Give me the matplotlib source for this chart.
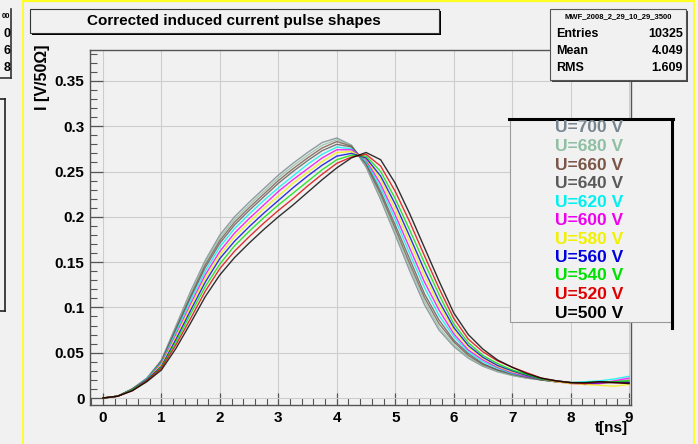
import matplotlib
matplotlib.use("Agg")
import matplotlib.pyplot as plt
from matplotlib.lines import Line2D
from matplotlib.patches import Rectangle
from matplotlib.ticker import MultipleLocator

# time axis of the pulse histograms, ns
t_ns = [0.0, 0.25, 0.5, 0.75, 1.0, 1.25, 1.5, 1.75, 2.0, 2.25, 2.5, 2.75,
        3.0, 3.25, 3.5, 3.75, 4.0, 4.25, 4.5, 4.75, 5.0, 5.25, 5.5, 5.75,
        6.0, 6.25, 6.5, 6.75, 7.0, 7.25, 7.5, 7.75, 8.0, 8.25, 8.5, 8.75, 9.0]

# induced current, V/50 Ohm, one list per anode voltage
u700 = [0.000, 0.002, 0.010, 0.022, 0.042, 0.080, 0.118, 0.152, 0.180, 0.200, 0.216, 0.231,
        0.246, 0.259, 0.271, 0.282, 0.287, 0.279, 0.255, 0.219, 0.180, 0.140, 0.103, 0.075,
        0.057, 0.044, 0.035, 0.029, 0.025, 0.022, 0.020, 0.018, 0.017, 0.016, 0.017, 0.018, 0.020]
u680 = [0.000, 0.002, 0.010, 0.022, 0.041, 0.078, 0.116, 0.150, 0.177, 0.197, 0.213, 0.228,
        0.243, 0.256, 0.268, 0.279, 0.285, 0.279, 0.257, 0.222, 0.183, 0.144, 0.107, 0.078,
        0.059, 0.045, 0.036, 0.030, 0.025, 0.022, 0.020, 0.018, 0.017, 0.016, 0.017, 0.018, 0.019]
u660 = [0.000, 0.002, 0.010, 0.021, 0.041, 0.077, 0.113, 0.147, 0.174, 0.194, 0.210, 0.225,
        0.240, 0.253, 0.265, 0.276, 0.283, 0.278, 0.258, 0.225, 0.187, 0.148, 0.111, 0.082,
        0.062, 0.047, 0.037, 0.031, 0.026, 0.023, 0.020, 0.018, 0.017, 0.016, 0.016, 0.017, 0.018]
u640 = [0.000, 0.002, 0.010, 0.021, 0.040, 0.075, 0.111, 0.144, 0.171, 0.191, 0.207, 0.222,
        0.237, 0.250, 0.262, 0.273, 0.280, 0.277, 0.260, 0.228, 0.191, 0.153, 0.115, 0.086,
        0.064, 0.049, 0.038, 0.031, 0.027, 0.023, 0.020, 0.018, 0.017, 0.017, 0.018, 0.018, 0.017]
u620 = [0.000, 0.002, 0.009, 0.021, 0.039, 0.073, 0.108, 0.140, 0.167, 0.187, 0.203, 0.218,
        0.232, 0.245, 0.258, 0.269, 0.277, 0.275, 0.261, 0.232, 0.197, 0.159, 0.122, 0.091,
        0.068, 0.051, 0.040, 0.033, 0.027, 0.024, 0.021, 0.018, 0.017, 0.018, 0.019, 0.021, 0.024]
u600 = [0.000, 0.002, 0.009, 0.020, 0.038, 0.070, 0.104, 0.136, 0.162, 0.182, 0.198, 0.213,
        0.228, 0.241, 0.253, 0.265, 0.274, 0.274, 0.263, 0.236, 0.202, 0.165, 0.128, 0.097,
        0.071, 0.053, 0.042, 0.034, 0.028, 0.024, 0.021, 0.018, 0.016, 0.015, 0.016, 0.019, 0.022]
u580 = [0.000, 0.002, 0.009, 0.020, 0.037, 0.068, 0.101, 0.132, 0.158, 0.178, 0.194, 0.209,
        0.223, 0.237, 0.249, 0.261, 0.271, 0.272, 0.264, 0.241, 0.208, 0.172, 0.135, 0.102,
        0.075, 0.056, 0.044, 0.035, 0.029, 0.025, 0.021, 0.018, 0.016, 0.015, 0.014, 0.013, 0.015]
u560 = [0.000, 0.002, 0.009, 0.020, 0.035, 0.065, 0.097, 0.128, 0.154, 0.173, 0.189, 0.204,
        0.218, 0.232, 0.245, 0.257, 0.267, 0.270, 0.265, 0.245, 0.214, 0.178, 0.141, 0.107,
        0.078, 0.058, 0.045, 0.036, 0.030, 0.025, 0.021, 0.019, 0.017, 0.016, 0.017, 0.018, 0.017]
u540 = [0.000, 0.002, 0.009, 0.019, 0.034, 0.062, 0.093, 0.123, 0.148, 0.168, 0.184, 0.199,
        0.213, 0.226, 0.239, 0.252, 0.263, 0.268, 0.267, 0.250, 0.220, 0.185, 0.149, 0.114,
        0.082, 0.061, 0.047, 0.038, 0.031, 0.026, 0.021, 0.019, 0.017, 0.017, 0.018, 0.018, 0.019]
u520 = [0.000, 0.002, 0.008, 0.019, 0.033, 0.059, 0.088, 0.118, 0.143, 0.162, 0.178, 0.193,
        0.207, 0.220, 0.234, 0.247, 0.259, 0.266, 0.269, 0.256, 0.228, 0.194, 0.157, 0.121,
        0.088, 0.065, 0.051, 0.041, 0.034, 0.028, 0.022, 0.019, 0.017, 0.016, 0.018, 0.017, 0.016]
u500 = [0.000, 0.002, 0.008, 0.018, 0.031, 0.055, 0.083, 0.112, 0.136, 0.155, 0.171, 0.186,
        0.200, 0.213, 0.227, 0.241, 0.254, 0.265, 0.271, 0.263, 0.237, 0.203, 0.166, 0.129,
        0.094, 0.070, 0.054, 0.042, 0.034, 0.027, 0.022, 0.019, 0.017, 0.017, 0.018, 0.017, 0.016]

series = [u700, u680, u660, u640, u620, u600, u580, u560, u540, u520, u500]
labels = ["U=700 V", "U=680 V", "U=660 V", "U=640 V", "U=620 V", "U=600 V",
          "U=580 V", "U=560 V", "U=540 V", "U=520 V", "U=500 V"]
colors = ["#76858f", "#8fbfa3", "#7a5548", "#5a5a5a", "#00f0f0", "#f000f0",
          "#f0f000", "#0000e0", "#00e000", "#e00000", "#000000"]

x_ticks = [0, 1, 2, 3, 4, 5, 6, 7, 8, 9]
y_ticks = [0, 0.05, 0.1, 0.15, 0.2, 0.25, 0.3, 0.35]
y_tick_labels = ["0", "0.05", "0.1", "0.15", "0.2", "0.25", "0.3", "0.35"]

stats_name = "MWF_2008_2_29_10_29_3500"
stats_rows = [("Entries", "10325"), ("Mean", "4.049"), ("RMS", "1.609")]

W, H = 698, 444
BG = "#f1f1f1"
plt.rcParams["font.family"] = ["Liberation Sans", "DejaVu Sans"]

fig = plt.figure(figsize=(W / 100, H / 100), dpi=100, facecolor=BG)


def fx(x):
    return x / W


def fy(y):
    return 1 - y / H


def hline(x0, x1, y, **kw):
    fig.add_artist(Line2D([fx(x0), fx(x1)], [fy(y), fy(y)], transform=fig.transFigure, **kw))


def vline(x, y0, y1, **kw):
    fig.add_artist(Line2D([fx(x), fx(x)], [fy(y0), fy(y1)], transform=fig.transFigure, **kw))


def box(x0, y0, x1, y1, **kw):
    fig.add_artist(Rectangle((fx(x0), fy(y1)), (x1 - x0) / W, (y1 - y0) / H,
                             transform=fig.transFigure, **kw))


# frame of the histogram pad
ax = fig.add_axes([fx(90), fy(405), (631 - 90) / W, (405 - 50) / H])
ax.set_facecolor(BG)

for vals, col in zip(series, colors):
    ax.plot(t_ns, vals, color=col, lw=1.0, alpha=0.8)

ax.set_xlim(-0.223, 9.034)
ax.set_ylim(-0.0077, 0.3841)
ax.set_xticks(x_ticks)
ax.set_yticks(y_ticks)
ax.set_yticklabels(y_tick_labels)
ax.xaxis.set_minor_locator(MultipleLocator(0.2))
ax.yaxis.set_minor_locator(MultipleLocator(0.01))
ax.grid(True, which="major", color="#cdcdcd", lw=0.8)
ax.set_axisbelow(True)
ax.tick_params(which="both", direction="in", colors="#555555", labelcolor="black")
ax.tick_params(which="major", length=9, width=0.9)
ax.tick_params(which="minor", length=5, width=0.8)
ax.tick_params(axis="y", pad=4)
ax.tick_params(axis="x", pad=4)
for lab in ax.get_xticklabels() + ax.get_yticklabels():
    lab.set_fontsize(11)
    lab.set_fontweight("bold")
for sp in ax.spines.values():
    sp.set_color("#555555")
    sp.set_linewidth(1.0)

fig.text(fx(628), fy(428), "t[ns]", ha="right", va="center", fontsize=11, fontweight="bold")
fig.text(fx(42), fy(44), "I [V/50\u03a9]", ha="center", va="top", rotation=90,
         fontsize=11.5, fontweight="bold")

# title box with shadow
box(32, 11, 441, 35, facecolor="black", edgecolor="none", zorder=4)
box(30, 9, 439, 33, facecolor=BG, edgecolor="#333333", lw=0.8, zorder=5)
fig.text(fx(234), fy(21), "Corrected induced current pulse shapes", ha="center", va="center",
         fontsize=11, fontweight="bold", zorder=6)

# statistics box
box(552, 11, 688, 82, facecolor="#444444", edgecolor="none", zorder=4)
box(550, 9, 686, 80, facecolor=BG, edgecolor="#555555", lw=0.8, zorder=5)
fig.text(fx(618), fy(17), stats_name, ha="center", va="center", fontsize=5.5,
         fontweight="bold", zorder=6)
for i, (name, val) in enumerate(stats_rows):
    y = 34 + 17 * i
    fig.text(fx(556), fy(y), name, ha="left", va="center", fontsize=9, fontweight="bold", zorder=6)
    fig.text(fx(683), fy(y), val, ha="right", va="center", fontsize=9, fontweight="bold", zorder=6)

# legend box
box(510, 119, 672, 322, facecolor=BG, edgecolor="#9a9a9a", lw=0.8, zorder=5)
hline(509, 673, 119, color="black", lw=2.2, zorder=6)
vline(672, 119, 328, color="black", lw=2.2, zorder=6)
for i, (lab, col) in enumerate(zip(labels, colors)):
    fig.text(fx(589), fy(128 + 18.5 * i), lab, ha="center", va="center", color=col,
             fontsize=12.5, fontweight="bold", zorder=7)

# neighbouring pad on the left edge
vline(11, 9, 78, color="#333333", lw=1.2)
hline(0, 11, 78, color="#333333", lw=1.2)
fig.text(fx(10), fy(16), "00", ha="right", va="center", fontsize=5.5, fontweight="bold")
for i, d in enumerate(["0", "6", "8"]):
    fig.text(fx(10), fy(34 + 17 * i), d, ha="right", va="center", fontsize=9, fontweight="bold")
hline(0, 5, 99, color="#222222", lw=1.2)
vline(5, 99, 311, color="#222222", lw=1.2)
hline(0, 5, 311, color="#222222", lw=1.2)

# highlighted pad border
vline(23, 0, H, color="#ffff20", lw=1.3)
hline(23, 694, 1.5, color="#ffff20", lw=1.6)
vline(694, 0, H, color="#ffff20", lw=1.3)

fig.savefig("out.png", dpi=100, facecolor=BG)
